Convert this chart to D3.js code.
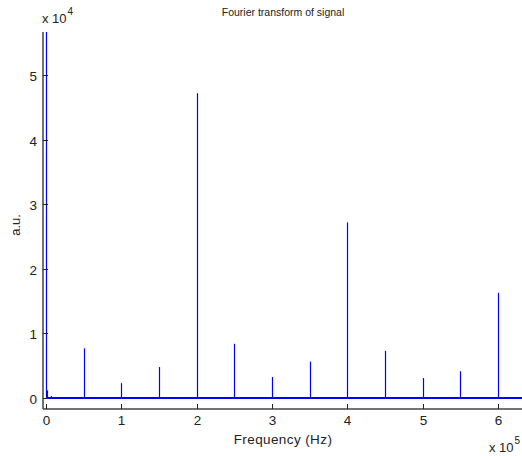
<!DOCTYPE html>
<html><head><meta charset="utf-8">
<script src="https://cdn.jsdelivr.net/npm/d3@7"></script>
<style>body{margin:0;background:#fff}text{font-family:"Liberation Sans",Arial,sans-serif}</style>
</head><body><svg id="c" width="522" height="456"></svg>
<script>
// spike frequencies (Hz) and magnitudes (a.u.)
const freqs = [0, 1000, 7000, 50000, 100000, 150000, 200000, 250000, 300000, 350000, 400000, 450000, 500000, 550000, 600000];
const mags  = [56700, 1200, 300, 7700, 2300, 4800, 47200, 8400, 3250, 5650, 27200, 7300, 3100, 4150, 16300];
const xTicks = [0, 1, 2, 3, 4, 5, 6];
const yTicks = [0, 1, 2, 3, 4, 5];
const xDomain = [-4000, 634500];
const yDomain = [-1700, 56700];

const svg = d3.select("#c");
const L = 43, R = 524, T = 32, B = 409;
const x = d3.scaleLinear().domain(xDomain).range([L, R]);
const y = d3.scaleLinear().domain(yDomain).range([B, T]);

svg.append("defs").append("clipPath").attr("id","clip")
  .append("rect").attr("x",L).attr("y",T).attr("width",R-L).attr("height",B-T);

const g = svg.append("g").attr("clip-path","url(#clip)");
// baseline
g.append("path").datum([[0,0],[xDomain[1],0]])
  .attr("d", d3.line().x(d=>x(d[0])).y(d=>y(d[1])))
  .attr("stroke","#0000ff").attr("stroke-width",2).attr("fill","none");
// spikes
g.selectAll("line.sp").data(freqs.map((f,i)=>[f,mags[i]])).join("line")
  .attr("x1",d=>Math.round(x(d[0]))+0.5).attr("x2",d=>Math.round(x(d[0]))+0.5)
  .attr("y1",y(0)).attr("y2",d=>y(d[1]))
  .attr("stroke","#0000ff").attr("stroke-width",1.2);

// axes
const axCol = "#444";
svg.append("line").attr("x1",L).attr("x2",L).attr("y1",T).attr("y2",B).attr("stroke",axCol).attr("stroke-width",1.5);
svg.append("line").attr("x1",L).attr("x2",R).attr("y1",B).attr("y2",B).attr("stroke",axCol).attr("stroke-width",1.5);

const xa = svg.append("g");
xTicks.forEach(t=>{
  const px = Math.round(x(t*1e5))+0.5;
  xa.append("line").attr("x1",px).attr("x2",px).attr("y1",B).attr("y2",B-5).attr("stroke","#222");
  xa.append("text").attr("x",px).attr("y",B+16).attr("text-anchor","middle").attr("font-size",13.5).attr("fill","#222").text(t);
});
const ya = svg.append("g");
yTicks.forEach(t=>{
  const py = Math.round(y(t*1e4))+0.5;
  ya.append("line").attr("x1",L).attr("x2",L+5).attr("y1",py).attr("y2",py).attr("stroke","#222");
  ya.append("text").attr("x",L-6).attr("y",py+5).attr("text-anchor","end").attr("font-size",13.5).attr("fill","#222").text(t);
});

// exponents
const e1 = svg.append("text").attr("x",42).attr("y",23).attr("font-size",13).attr("fill","#222");
e1.append("tspan").text("x 10");
e1.append("tspan").attr("dx",1).attr("dy",-8).attr("font-size",10).text("4");
const e2 = svg.append("text").attr("x",489).attr("y",452).attr("font-size",13).attr("fill","#222");
e2.append("tspan").text("x 10");
e2.append("tspan").attr("dx",1).attr("dy",-8).attr("font-size",10).text("5");

svg.append("text").attr("x",283).attr("y",16).attr("text-anchor","middle").attr("font-size",10.5).attr("fill","#222").text("Fourier transform of signal");
svg.append("text").attr("x",283).attr("y",444).attr("text-anchor","middle").attr("font-size",13.5).attr("letter-spacing",0.4).attr("fill","#222").text("Frequency (Hz)");
svg.append("text").attr("transform","translate(20,225) rotate(-90)").attr("text-anchor","middle").attr("font-size",13).attr("fill","#222").text("a.u.");
</script></body></html>
